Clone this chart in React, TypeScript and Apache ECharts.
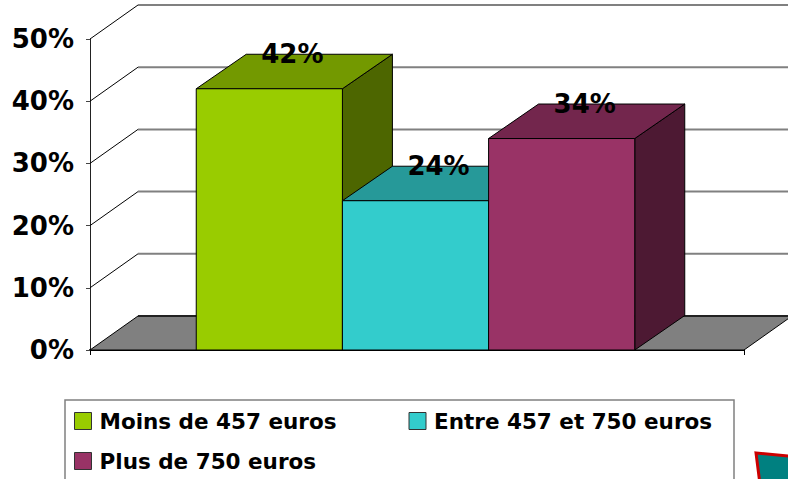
import React, { useEffect, useRef } from "react";
import * as echarts from "echarts";

const categories = [""];
const seriesNames = ["Moins de 457 euros", "Entre 457 et 750 euros", "Plus de 750 euros"];
const seriesValues = [42, 24, 34];
const axisTicks = [0, 10, 20, 30, 40, 50];
const frontColors = ["#99CC00", "#33CCCC", "#993366"];
const topColors = ["#739900", "#269999", "#73264D"];
const sideColors = ["#4D6600", "#1A6666", "#4D1933"];
const marker = [[756, 453], [800, 457], [800, 500], [762, 500]];

const DX = 48;
const DY = 34;
const BAR_DX = 50;
const BAR_DY = 34.5;
const FONT = "'DejaVu Sans', sans-serif";

export default function App() {
  const ref = useRef<HTMLDivElement>(null);
  useEffect(() => {
    const chart = echarts.init(ref.current!, null, { renderer: "svg" });

    const wallSeries: any = {
      type: "custom",
      z: 1,
      silent: true,
      clip: false,
      encode: { x: 0, y: 1 },
      data: axisTicks.map((t) => [0, t]),
      renderItem: (params: any, api: any) => {
        const v = api.value(1);
        const y = api.coord([0, v])[1];
        const l = params.coordSys.x;
        const r = l + params.coordSys.width;
        const children: any[] = [];
        if (v === 0) {
          children.push({
            type: "polygon",
            shape: { points: [[l, y], [l + DX, y - DY], [r + DX, y - DY], [r, y]] },
            style: { fill: "#808080", stroke: "#000", lineWidth: 1 },
          });
          children.push({
            type: "line",
            shape: { x1: l + DX, y1: y - DY, x2: r + DX, y2: y - DY },
            style: { stroke: "#222", lineWidth: 2 },
          });
        } else {
          children.push({
            type: "line",
            shape: { x1: l, y1: y, x2: l + DX, y2: y - DY },
            style: { stroke: "#000", lineWidth: 1 },
          });
          children.push({
            type: "line",
            shape: { x1: l + DX, y1: y - DY, x2: r + DX, y2: y - DY },
            style: { stroke: "#808080", lineWidth: 2 },
          });
        }
        return { type: "group", children };
      },
    };

    const barSeries: any[] = seriesNames.map((name, i) => ({
      name,
      type: "custom",
      z: 2 + i,
      clip: false,
      silent: true,
      itemStyle: { color: frontColors[i] },
      encode: { x: 0, y: 1 },
      data: [[0, seriesValues[i]]],
      renderItem: (_p: any, api: any) => {
        const [cx, top] = api.coord([0, api.value(1)]);
        const base = api.coord([0, 0])[1];
        const w = api.size([1, 0])[0] * 0.2235;
        const x0 = cx - 1.5 * w - 1.5 + i * w;
        const x1 = x0 + w;
        const stroke = { stroke: "#000", lineWidth: 1 };
        return {
          type: "group",
          children: [
            {
              type: "polygon",
              shape: { points: [[x1, top], [x1 + BAR_DX, top - BAR_DY], [x1 + BAR_DX, base - BAR_DY], [x1, base]] },
              style: { fill: sideColors[i], ...stroke },
            },
            {
              type: "polygon",
              shape: { points: [[x0, top], [x0 + BAR_DX, top - BAR_DY], [x1 + BAR_DX, top - BAR_DY], [x1, top]] },
              style: { fill: topColors[i], ...stroke },
            },
            {
              type: "rect",
              shape: { x: x0, y: top, width: w, height: base - top },
              style: { fill: frontColors[i], ...stroke },
            },
            {
              type: "text",
              x: (x0 + x1) / 2 + 23,
              y: top - BAR_DY,
              style: {
                text: `${seriesValues[i]}%`,
                fill: "#000",
                font: `bold 26px ${FONT}`,
                align: "center",
                verticalAlign: "middle",
              },
            },
          ],
        };
      },
    }));

    const legendBase = {
      selectedMode: false,
      icon: "rect",
      itemWidth: 17,
      itemHeight: 17,
      itemGap: 72,
      padding: 0,
      itemStyle: { borderColor: "#333", borderWidth: 1 },
      textStyle: { fontFamily: FONT, fontWeight: "bold", fontSize: 21.5, color: "#000", padding: [0, 0, 0, 3] },
    };

    chart.setOption({
      animation: false,
      grid: { left: 90, right: 44, top: 39, bottom: 129, containLabel: false },
      xAxis: {
        type: "category",
        data: categories,
        axisLine: { lineStyle: { color: "#000", width: 2 } },
        axisTick: { show: true, length: 5, lineStyle: { color: "#000" } },
        axisLabel: { show: false },
      },
      yAxis: {
        type: "value",
        min: 0,
        max: 50,
        interval: 10,
        splitLine: { show: false },
        axisLine: { show: true, lineStyle: { color: "#222", width: 1 } },
        axisTick: { show: true, length: 4, lineStyle: { color: "#444" } },
        axisLabel: {
          formatter: (v: number) => `${v}%`,
          margin: 16,
          color: "#000",
          fontFamily: FONT,
          fontWeight: "bold",
          fontSize: 26,
        },
      },
      legend: [
        { ...legendBase, left: 74, top: 410, data: seriesNames.slice(0, 2) },
        { ...legendBase, left: 74, top: 450, data: seriesNames.slice(2) },
      ],
      graphic: [
        {
          type: "rect",
          z: -1,
          shape: { x: 65, y: 400, width: 669, height: 100 },
          style: { fill: "#fff", stroke: "#808080", lineWidth: 1.5 },
        },
        {
          type: "polygon",
          shape: { points: marker },
          style: { fill: "#008080", stroke: "#CC0000", lineWidth: 3 },
        },
      ],
      series: [wallSeries, ...barSeries],
    });
    return () => chart.dispose();
  }, []);
  return <div ref={ref} style={{ position: "absolute", left: 0, top: 0, width: 788, height: 479 }} />;
}
